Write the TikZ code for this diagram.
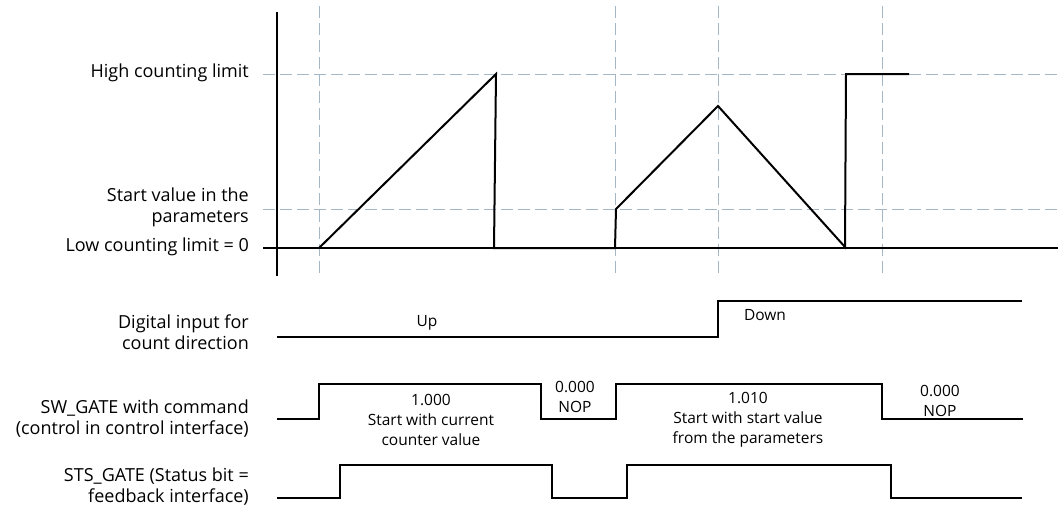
\documentclass[tikz,border=0pt]{standalone}
\usepackage{fontspec}
\setmainfont{Open Sans}
\usepackage{xcolor}
\definecolor{gridblue}{RGB}{165,182,197}
\tikzset{
  guide/.style={draw=gridblue,line width=1pt,dash pattern=on 12pt off 5pt},
  trace/.style={line width=2pt,line join=miter},
  axis/.style={line width=2.2pt},
  lab/.style={anchor=east,align=right,inner sep=0pt,font=\fontsize{18}{21}\selectfont},
  note/.style={align=center,inner sep=0pt,font=\fontsize{15.5}{20}\selectfont}
}
\begin{document}
\begin{tikzpicture}[x=1pt,y=-1pt]
  \useasboundingbox (0,0) rectangle (1063,520);
  \foreach \gx in {319,615,718,882}{\draw[guide] (\gx,6) -- (\gx,276);}
  \foreach \gy in {74,209}{\draw[guide] (263,\gy) -- (1058,\gy);}
  \draw[axis] (277,12) -- (277,276);
  \draw[axis] (263,248) -- (1058,248);
  \draw[trace] (319,248) -- (496,74) -- (494,248) -- (615,248) -- (616,209)
    -- (718,106) -- (845,247) -- (846,74) -- (909,74);
  \node[lab] (hilim) at (249,73) {High counting limit};
  \node[lab] (startval) at (249,207) {Start value in the\\parameters};
  \node[lab] (lolim) at (249,247) {Low counting limit = 0};
  \node[lab] (dirin) at (249,332) {Digital input for\\count direction};
  \node[lab] (swgate) at (249,419) {SW\_GATE with command\\(control in control interface)};
  \node[lab] (stsgate) at (249,487) {STS\_GATE (Status bit =\\feedback interface)};
  \draw[trace] (277,337) -- (718,337) -- (718,301) -- (1022,301);
  \draw[trace] (277,419) -- (319,419) -- (319,384) -- (541,384) -- (541,419)
    -- (616,419) -- (616,384) -- (882,384) -- (882,419) -- (1023,419);
  \draw[trace] (277,498) -- (340,498) -- (340,465) -- (552,465) -- (552,498)
    -- (627,498) -- (627,465) -- (891,465) -- (891,498) -- (1022,498);
  \node[note] (up) at (427,323) {Up};
  \node[note] (down) at (765,315) {Down};
  \node[note] (cmda) at (431,420) {1.000\\Start with current\\counter value};
  \node[note] (nopa) at (575,397) {0.000\\NOP};
  \node[note] (cmdb) at (748,420) {1.010\\Start with start value\\from the parameters};
  \node[note] (nopb) at (940,401) {0.000\\NOP};
\end{tikzpicture}
\end{document}
